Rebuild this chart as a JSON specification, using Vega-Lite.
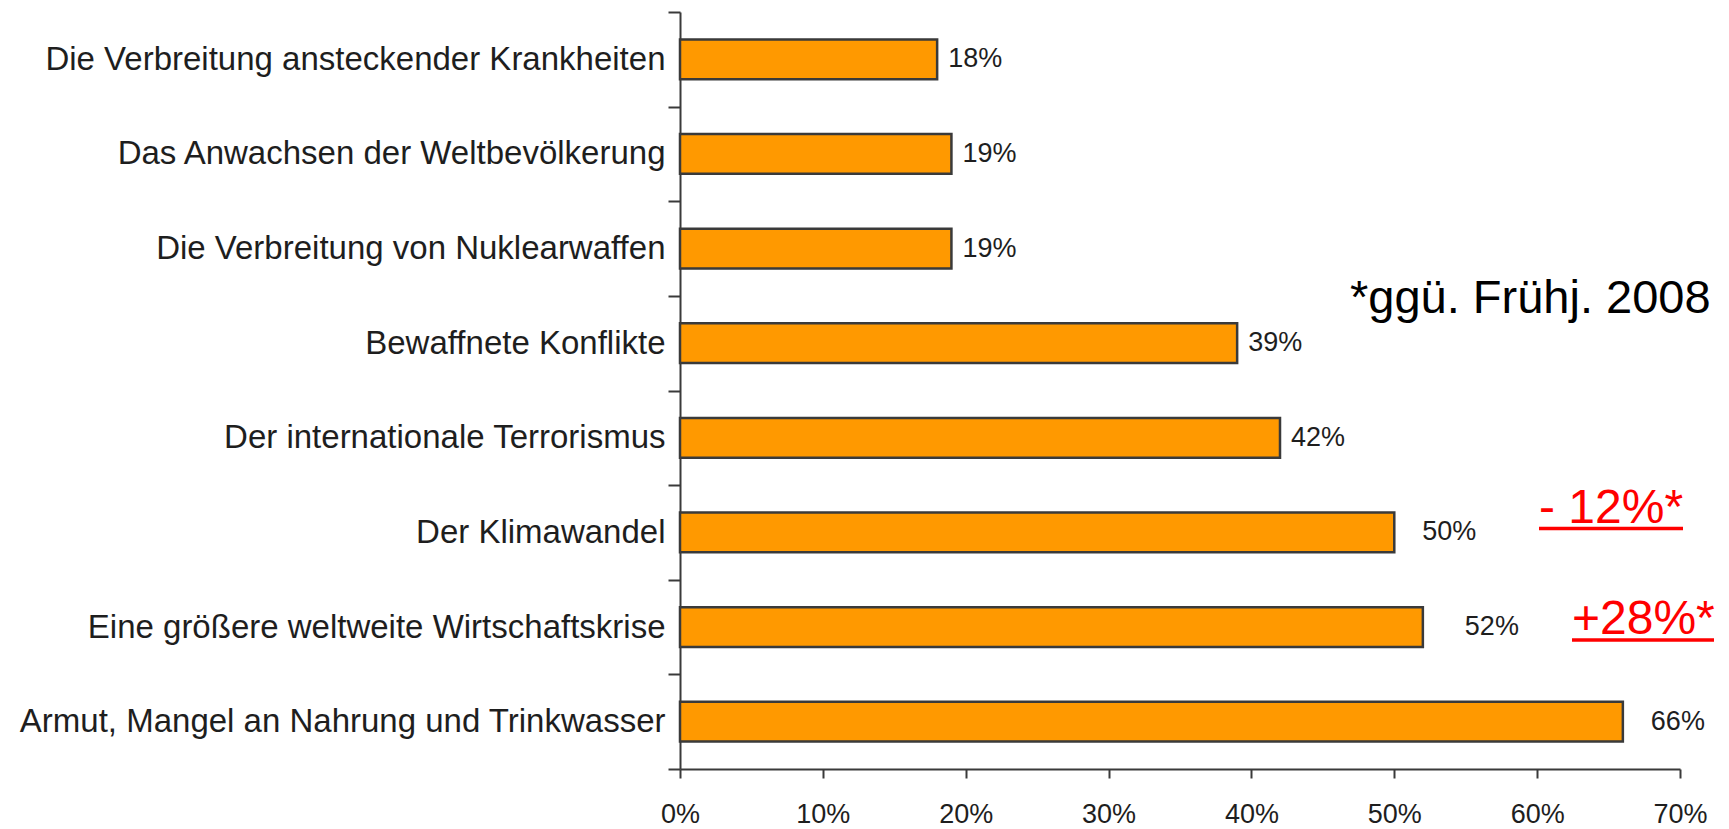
{
  "$schema": "https://vega.github.io/schema/vega-lite/v6.json",
  "width": 1000,
  "height": 757,
  "autosize": {"type": "none"},
  "padding": {"left": 680, "top": 12, "right": 49, "bottom": 60},
  "background": "white",
  "config": {
    "view": {"stroke": null},
    "font": "Liberation Sans",
    "text": {"font": "Liberation Sans"},
    "axis": {"labelFont": "Liberation Sans", "grid": false, "title": null}
  },
  "datasets": {
    "bars": [
      {"cat": "Die Verbreitung ansteckender Krankheiten", "v": 0.18},
      {"cat": "Das Anwachsen der Weltbevölkerung", "v": 0.19},
      {"cat": "Die Verbreitung von Nuklearwaffen\u00a0\u00a0", "v": 0.19},
      {"cat": "Bewaffnete Konflikte", "v": 0.39},
      {"cat": "Der internationale Terrorismus", "v": 0.42},
      {"cat": "Der Klimawandel\u00a0", "v": 0.50},
      {"cat": "Eine größere weltweite Wirtschaftskrise", "v": 0.52},
      {"cat": "Armut, Mangel an Nahrung und Trinkwasser", "v": 0.66}
    ],
    "notes": [
      {"cat": "Bewaffnete Konflikte", "x": 0.469, "t": "*ggü. Frühj. 2008", "kind": "foot"},
      {"cat": "Der Klimawandel\u00a0", "x": 0.6013, "x2": 0.7021, "t": "- 12%*", "kind": "up"},
      {"cat": "Eine größere weltweite Wirtschaftskrise", "x": 0.6244, "x2": 0.7238, "t": "+28%*", "kind": "down"}
    ]
  },
  "encoding": {
    "y": {
      "field": "cat",
      "type": "nominal",
      "sort": null,
      "scale": {"paddingInner": 0, "paddingOuter": 0},
      "axis": {
        "tickBand": "extent",
        "labelFontSize": 33,
        "labelColor": "#1e1e1e",
        "labelLimit": 1000,
        "labelPadding": 3,
        "tickSize": 12,
        "tickWidth": 2,
        "tickColor": "#3a3a3a",
        "domainColor": "#3a3a3a",
        "domainWidth": 2
      }
    }
  },
  "layer": [
    {
      "data": {"name": "bars"},
      "mark": {"type": "bar", "height": {"band": 0.42}, "fill": "#FF9900", "stroke": "#3a3a3a", "strokeWidth": 2.5},
      "encoding": {
        "x": {
          "field": "v",
          "type": "quantitative",
          "scale": {"domain": [0, 0.7], "nice": false},
          "axis": {
            "values": [0, 0.1, 0.2, 0.3, 0.4, 0.5, 0.6, 0.7],
            "format": ".0%",
            "labelFontSize": 27,
            "labelColor": "#1e1e1e",
            "labelPadding": 23,
            "labelFlush": false,
            "tickSize": 9,
            "tickWidth": 2,
            "tickColor": "#3a3a3a",
            "domainColor": "#3a3a3a",
            "domainWidth": 2
          }
        }
      }
    },
    {
      "data": {"name": "bars"},
      "transform": [{"filter": "datum.v < 0.45"}],
      "mark": {"type": "text", "align": "left", "baseline": "middle", "dx": 11, "fontSize": 27, "color": "#1e1e1e"},
      "encoding": {
        "x": {"field": "v", "type": "quantitative"},
        "text": {"field": "v", "type": "quantitative", "format": ".0%"}
      }
    },
    {
      "data": {"name": "bars"},
      "transform": [{"filter": "datum.v == 0.5 || datum.v == 0.66"}],
      "mark": {"type": "text", "align": "left", "baseline": "middle", "dx": 28, "fontSize": 27, "color": "#1e1e1e"},
      "encoding": {
        "x": {"field": "v", "type": "quantitative"},
        "text": {"field": "v", "type": "quantitative", "format": ".0%"}
      }
    },
    {
      "data": {"name": "bars"},
      "transform": [{"filter": "datum.v == 0.52"}],
      "mark": {"type": "text", "align": "left", "baseline": "middle", "dx": 42, "fontSize": 27, "color": "#1e1e1e"},
      "encoding": {
        "x": {"field": "v", "type": "quantitative"},
        "text": {"field": "v", "type": "quantitative", "format": ".0%"}
      }
    },
    {
      "data": {"name": "notes"},
      "transform": [{"filter": "datum.kind == 'foot'"}],
      "mark": {"type": "text", "align": "left", "baseline": "alphabetic", "dy": -30, "fontSize": 47, "color": "#000000"},
      "encoding": {
        "x": {"field": "x", "type": "quantitative"},
        "text": {"field": "t"}
      }
    },
    {
      "data": {"name": "notes"},
      "transform": [{"filter": "datum.kind == 'up'"}],
      "mark": {"type": "text", "align": "left", "baseline": "alphabetic", "dy": -9, "fontSize": 48, "color": "#FF0000"},
      "encoding": {
        "x": {"field": "x", "type": "quantitative"},
        "text": {"field": "t"}
      }
    },
    {
      "data": {"name": "notes"},
      "transform": [{"filter": "datum.kind == 'down'"}],
      "mark": {"type": "text", "align": "left", "baseline": "alphabetic", "dy": 7, "fontSize": 48, "color": "#FF0000"},
      "encoding": {
        "x": {"field": "x", "type": "quantitative"},
        "text": {"field": "t"}
      }
    },
    {
      "data": {"name": "notes"},
      "transform": [{"filter": "datum.kind == 'up'"}],
      "mark": {"type": "rule", "color": "#FF0000", "strokeWidth": 3.5, "yOffset": -4},
      "encoding": {
        "x": {"field": "x", "type": "quantitative"},
        "x2": {"field": "x2"}
      }
    },
    {
      "data": {"name": "notes"},
      "transform": [{"filter": "datum.kind == 'down'"}],
      "mark": {"type": "rule", "color": "#FF0000", "strokeWidth": 3.5, "yOffset": 13},
      "encoding": {
        "x": {"field": "x", "type": "quantitative"},
        "x2": {"field": "x2"}
      }
    }
  ]
}
